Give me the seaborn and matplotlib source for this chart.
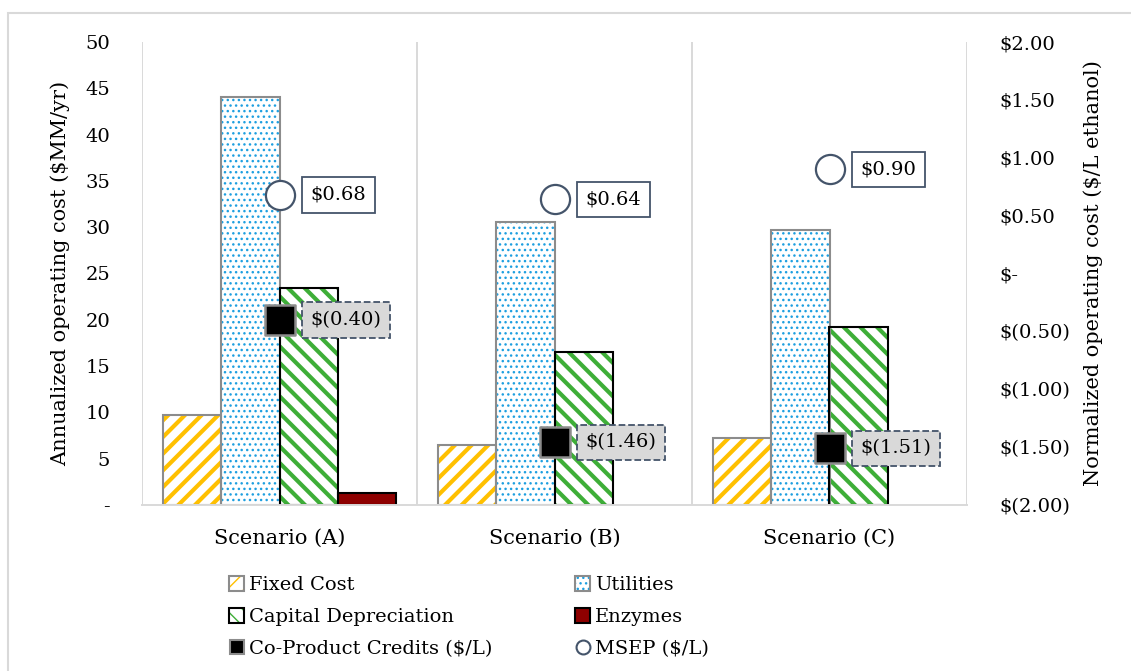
import numpy as np
import pandas as pd
import matplotlib
matplotlib.use("Agg")
import matplotlib.pyplot as plt
from matplotlib.patches import Patch, Rectangle
from matplotlib.lines import Line2D
from matplotlib.legend_handler import HandlerTuple
from matplotlib.ticker import FuncFormatter, MultipleLocator
import seaborn as sns

# ---- data -------------------------------------------------------------
scenarios = ["Scenario (A)", "Scenario (B)", "Scenario (C)"]
components = ["Fixed Cost", "Utilities", "Capital Depreciation", "Enzymes"]

fixed_cost = [9.7, 6.5, 7.2]                 # $MM/yr
utilities = [44.1, 30.6, 29.7]               # $MM/yr
capital_depreciation = [23.4, 16.5, 19.2]    # $MM/yr
enzymes = [1.3, 0.0, 0.0]                    # $MM/yr

coproduct_credits = [-0.40, -1.46, -1.51]    # $/L ethanol
msep = [0.68, 0.64, 0.90]                    # $/L ethanol

# ---- style ------------------------------------------------------------
sns.set_style("white")
plt.rcParams["font.family"] = ["DejaVu Serif"]
plt.rcParams["text.color"] = "black"
plt.rcParams["axes.labelcolor"] = "black"
plt.rcParams["xtick.color"] = "black"
plt.rcParams["ytick.color"] = "black"

GRID = "#D9D9D9"
SLATE = "#44546A"

bar_styles = {
    "Fixed Cost": dict(face="white", hatch="//", hcolor="#FFC000", edge="#8C8C8C", hlw=3.0),
    "Utilities": dict(face="white", hatch="...", hcolor="#1E9FE0", edge="#8C8C8C", hlw=1.0),
    "Capital Depreciation": dict(face="white", hatch="\\\\", hcolor="#3EAE38", edge="black", hlw=3.0),
    "Enzymes": dict(face="#8E0000", hatch=None, hcolor="black", edge="black", hlw=1.0),
}


def set_hatch_lw(patch, lw):
    if hasattr(patch, "set_hatch_linewidth"):
        patch.set_hatch_linewidth(lw)
    else:
        patch._hatch_linewidth = lw


def money(v, pos=None):
    if abs(v) < 1e-9:
        return "$-"
    if v < 0:
        return f"$({abs(v):.2f})"
    return f"${v:.2f}"


def plain(v, pos=None):
    return "-" if abs(v) < 1e-9 else f"{v:.0f}"


# ---- long-form table --------------------------------------------------
series = [fixed_cost, utilities, capital_depreciation, enzymes]
df = pd.DataFrame(
    [(s, c, v) for c, vals in zip(components, series) for s, v in zip(scenarios, vals)],
    columns=["Scenario", "Component", "Cost"],
)

W, H = 1131, 671
fig = plt.figure(figsize=(W / 100, H / 100), dpi=100)
ax = fig.add_axes([142 / W, 1 - 505 / H, (967 - 142) / W, (505 - 42) / H])

sns.barplot(
    data=df, x="Scenario", y="Cost", hue="Component",
    order=scenarios, hue_order=components,
    palette=[bar_styles[c]["face"] for c in components],
    saturation=1, width=0.845, linewidth=0, legend=False, ax=ax,
)

# hatch fill + separate outline colour for every bar
for comp, container in zip(components, ax.containers):
    st = bar_styles[comp]
    for bar in container:
        bar.set_facecolor(st["face"])
        bar.set_linewidth(0)
        if st["hatch"]:
            bar.set_hatch(st["hatch"])
            bar.set_edgecolor(st["hcolor"])
            set_hatch_lw(bar, st["hlw"])
        if bar.get_height() > 0:
            ax.add_patch(Rectangle(bar.get_xy(), bar.get_width(), bar.get_height(),
                                   fill=False, edgecolor=st["edge"], linewidth=1.5,
                                   zorder=bar.get_zorder() + 0.1))

ax.set_xlim(-0.5, len(scenarios) - 0.5)
ax.set_ylim(0, 50)
ax.yaxis.set_major_locator(MultipleLocator(5))
ax.yaxis.set_major_formatter(FuncFormatter(plain))
ax.set_xticks(list(np.arange(len(scenarios)) - 0.5) + [len(scenarios) - 0.5], minor=True)
ax.grid(which="minor", axis="x", color=GRID, linewidth=1.4)
ax.grid(which="major", visible=False)
ax.set_axisbelow(True)
ax.tick_params(axis="both", which="both", length=0)
ax.tick_params(axis="y", labelsize=14, pad=23)
ax.tick_params(axis="x", labelsize=15, pad=17)
for side in ["left", "right", "top"]:
    ax.spines[side].set_visible(False)
ax.spines["bottom"].set_color(GRID)
ax.spines["bottom"].set_linewidth(1.4)
ax.set_xlabel("")
ax.set_ylabel("Annualized operating cost ($MM/yr)", fontsize=15)
ax.yaxis.set_label_coords(-0.087, 0.5)

# ---- secondary axis: $/L markers --------------------------------------
ax2 = ax.twinx()
pos = np.arange(len(scenarios))
sns.scatterplot(x=pos, y=msep, ax=ax2, marker="o", s=440, color="white",
                edgecolor=SLATE, linewidth=1.6, zorder=5)
sns.scatterplot(x=pos, y=coproduct_credits, ax=ax2, marker="s", s=440, color="black",
                edgecolor="#8C8C8C", linewidth=1.8, zorder=5)
ax2.set_xlim(-0.5, len(scenarios) - 0.5)
ax2.set_ylim(-2, 2)
ax2.yaxis.set_major_locator(MultipleLocator(0.5))
ax2.yaxis.set_major_formatter(FuncFormatter(money))
ax2.tick_params(axis="both", length=0)
ax2.tick_params(axis="y", labelsize=14, pad=23)
for side in ax2.spines:
    ax2.spines[side].set_visible(False)
ax2.set_xlabel("")
ax2.set_ylabel("Normalized operating cost ($/L ethanol)", fontsize=15)
ax2.yaxis.set_label_coords(1.141, 0.5)

for i, v in enumerate(msep):
    ax2.annotate(money(v), xy=(i, v), xytext=(22.5, 0), textcoords="offset points",
                 ha="left", va="center", fontsize=14, zorder=6,
                 bbox=dict(boxstyle="square,pad=0.45", fc="white", ec=SLATE, lw=1.3))
for i, v in enumerate(coproduct_credits):
    ax2.annotate(money(v), xy=(i, v), xytext=(22.5, 0), textcoords="offset points",
                 ha="left", va="center", fontsize=14, zorder=6,
                 bbox=dict(boxstyle="square,pad=0.45", fc="#D9D9D9", ec=SLATE,
                           lw=1.3, ls="--"))

# ---- legend (two columns) ---------------------------------------------
def bar_handle(comp):
    st = bar_styles[comp]
    if st["hatch"]:
        fill = Patch(facecolor=st["face"], hatch=st["hatch"], edgecolor=st["hcolor"], linewidth=0)
        set_hatch_lw(fill, st["hlw"])
    else:
        fill = Patch(facecolor=st["face"], linewidth=0)
    outline = Patch(fill=False, edgecolor=st["edge"], linewidth=1.5)
    return (fill, outline)


credit_handle = Line2D([], [], ls="", marker="s", markersize=10, mfc="black",
                       mec="#8C8C8C", mew=1.5)
msep_handle = Line2D([], [], ls="", marker="o", markersize=10, mfc="white",
                     mec=SLATE, mew=1.5)

col1 = [(bar_handle("Fixed Cost"), "Fixed Cost"),
        (bar_handle("Capital Depreciation"), "Capital Depreciation"),
        (credit_handle, "Co-Product Credits ($/L)")]
col2 = [(bar_handle("Utilities"), "Utilities"),
        (bar_handle("Enzymes"), "Enzymes"),
        (msep_handle, "MSEP ($/L)")]

for col, x0 in [(col1, 229), (col2, 575)]:
    fig.legend(
        handles=[h for h, _ in col], labels=[l for _, l in col],
        handler_map={tuple: HandlerTuple(ndivide=1, pad=0)},
        loc="upper left", bbox_to_anchor=(x0 / W, 1 - 576 / H),
        frameon=False, borderpad=0, borderaxespad=0, fontsize=14,
        handlelength=0.78, handleheight=0.78, handletextpad=0.25, labelspacing=0.72,
    )

# light frame around the chart
fig.patches.append(Rectangle((8 / W, -0.05), 1.1, 1 - 13 / H + 0.05, transform=fig.transFigure,
                             fill=False, edgecolor=GRID, linewidth=1.5))

fig.savefig("out.png", dpi=100)
